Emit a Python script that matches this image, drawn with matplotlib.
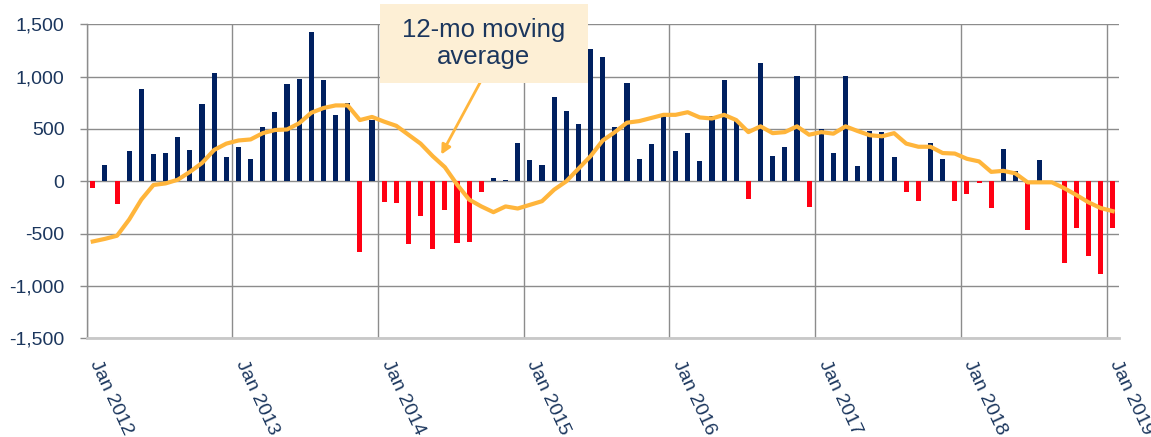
import matplotlib
matplotlib.use("Agg")
import matplotlib.pyplot as plt
from matplotlib.patches import Rectangle
from matplotlib.ticker import FuncFormatter, FixedLocator
import numpy as np

plt.rcParams['font.family'] = ['Liberation Sans', 'DejaVu Sans']

# Monthly values, Jan 2012 .. Jan 2019
monthly = [
    # 2012
    -60, 160, -215, 290, 880, 265, 270, 425, 295, 735, 1030, 235,
    # 2013
    325, 215, 520, 665, 925, 975, 1430, 970, 630, 750, -680, 590,
    # 2014
    -195, -205, -600, -335, -645, -275, -590, -580, -100, 30, 15, 365,
    # 2015
    205, 160, 805, 675, 545, 1265, 1190, 515, 935, 215, 360, 645,
    # 2016
    285, 460, 195, 625, 970, 575, -165, 1130, 240, 330, 1005, -250,
    # 2017
    500, 270, 1010, 145, 480, 470, 230, -105, -190, 365, 210, -190,
    # 2018
    -120, -15, -255, 310, 100, -465, 205, -25, -780, -445, -715, -885,
    # 2019
    -445,
]

moving_avg = [
    # 2012
    -575, -550, -520, -365, -175, -35, -20, 15, 90, 175, 300, 360,
    # 2013
    390, 400, 460, 490, 495, 555, 655, 700, 725, 725, 585, 615,
    # 2014
    570, 530, 445, 360, 240, 135, -30, -175, -240, -295, -240, -260,
    # 2015
    -225, -190, -80, 0, 120, 240, 390, 470, 560, 575, 605, 635,
    # 2016
    635, 660, 610, 600, 635, 585, 470, 525, 460, 470, 525, 445,
    # 2017
    470, 455, 525, 480, 440, 430, 460, 360, 330, 330, 270, 265,
    # 2018
    215, 190, 90, 100, 75, -10, -10, -10, -65, -130, -200, -255,
    # 2019
    -285,
]

year_labels = ["Jan 2012", "Jan 2013", "Jan 2014", "Jan 2015",
               "Jan 2016", "Jan 2017", "Jan 2018", "Jan 2019"]
y_ticks = [-1500, -1000, -500, 0, 500, 1000, 1500]

NAVY = "#002060"
RED = "#FF0013"
ORANGE = "#FFB53B"
TEXT = "#1B365D"
GRID = "#8C8C8C"

W, H = 1151, 437
fig = plt.figure(figsize=(W / 100, H / 100), dpi=100)
ax = fig.add_axes([86.7 / W, 1 - 338.3 / H, (1118.7 - 86.7) / W, (338.3 - 24.3) / H])

x = np.arange(len(monthly))
vals = np.array(monthly)
colors = [NAVY if v >= 0 else RED for v in vals]
ax.bar(x, vals, width=0.42, color=colors, zorder=3, edgecolor='none')
ax.plot(x, moving_avg, color=ORANGE, lw=3, zorder=4, solid_joinstyle='round')

ax.set_xlim(-0.5, len(monthly) - 0.5)
ax.set_ylim(-1500, 1500)

# gridlines
ax.yaxis.set_major_locator(FixedLocator(y_ticks))
ax.yaxis.set_major_formatter(FuncFormatter(lambda v, p: f"{v:,.0f}"))
ax.grid(axis='y', color=GRID, lw=1.0, zorder=0)
year_pos = [-0.5 + 12 * i for i in range(len(year_labels))]
for xp in year_pos:
    ax.axvline(xp, color=GRID, lw=1.0, zorder=0)

ax.set_xticks(year_pos)
ax.set_xticklabels(year_labels, rotation=-65, ha='left', va='top',
                   rotation_mode='default', fontsize=14, color=TEXT)
ax.tick_params(axis='x', length=0, pad=14)
ax.tick_params(axis='y', length=5, width=1, color=GRID, pad=11,
               labelsize=14, labelcolor=TEXT)

for s in ['top', 'right']:
    ax.spines[s].set_visible(False)
ax.spines['left'].set_color(GRID)
ax.spines['left'].set_linewidth(1.0)
ax.spines['bottom'].set_color('#C8C8C8')
ax.spines['bottom'].set_linewidth(2.0)

# annotation box
box = Rectangle((380 / W, 1 - 83 / H), 208 / W, 79 / H, transform=fig.transFigure,
                facecolor="#FDEFD5", edgecolor='none', zorder=10)
fig.patches.append(box)
fig.text(484 / W, 1 - 43.5 / H, "12-mo moving\naverage", ha='center', va='center',
         fontsize=18.5, color=TEXT, linespacing=1.15, zorder=11)

ax.annotate("", xy=(28.7, 255), xytext=(31.9, 943),
            arrowprops=dict(arrowstyle='-|>', color=ORANGE, lw=2,
                            mutation_scale=14, shrinkA=0, shrinkB=0),
            zorder=6, annotation_clip=False)

fig.savefig("out.png", dpi=100)
